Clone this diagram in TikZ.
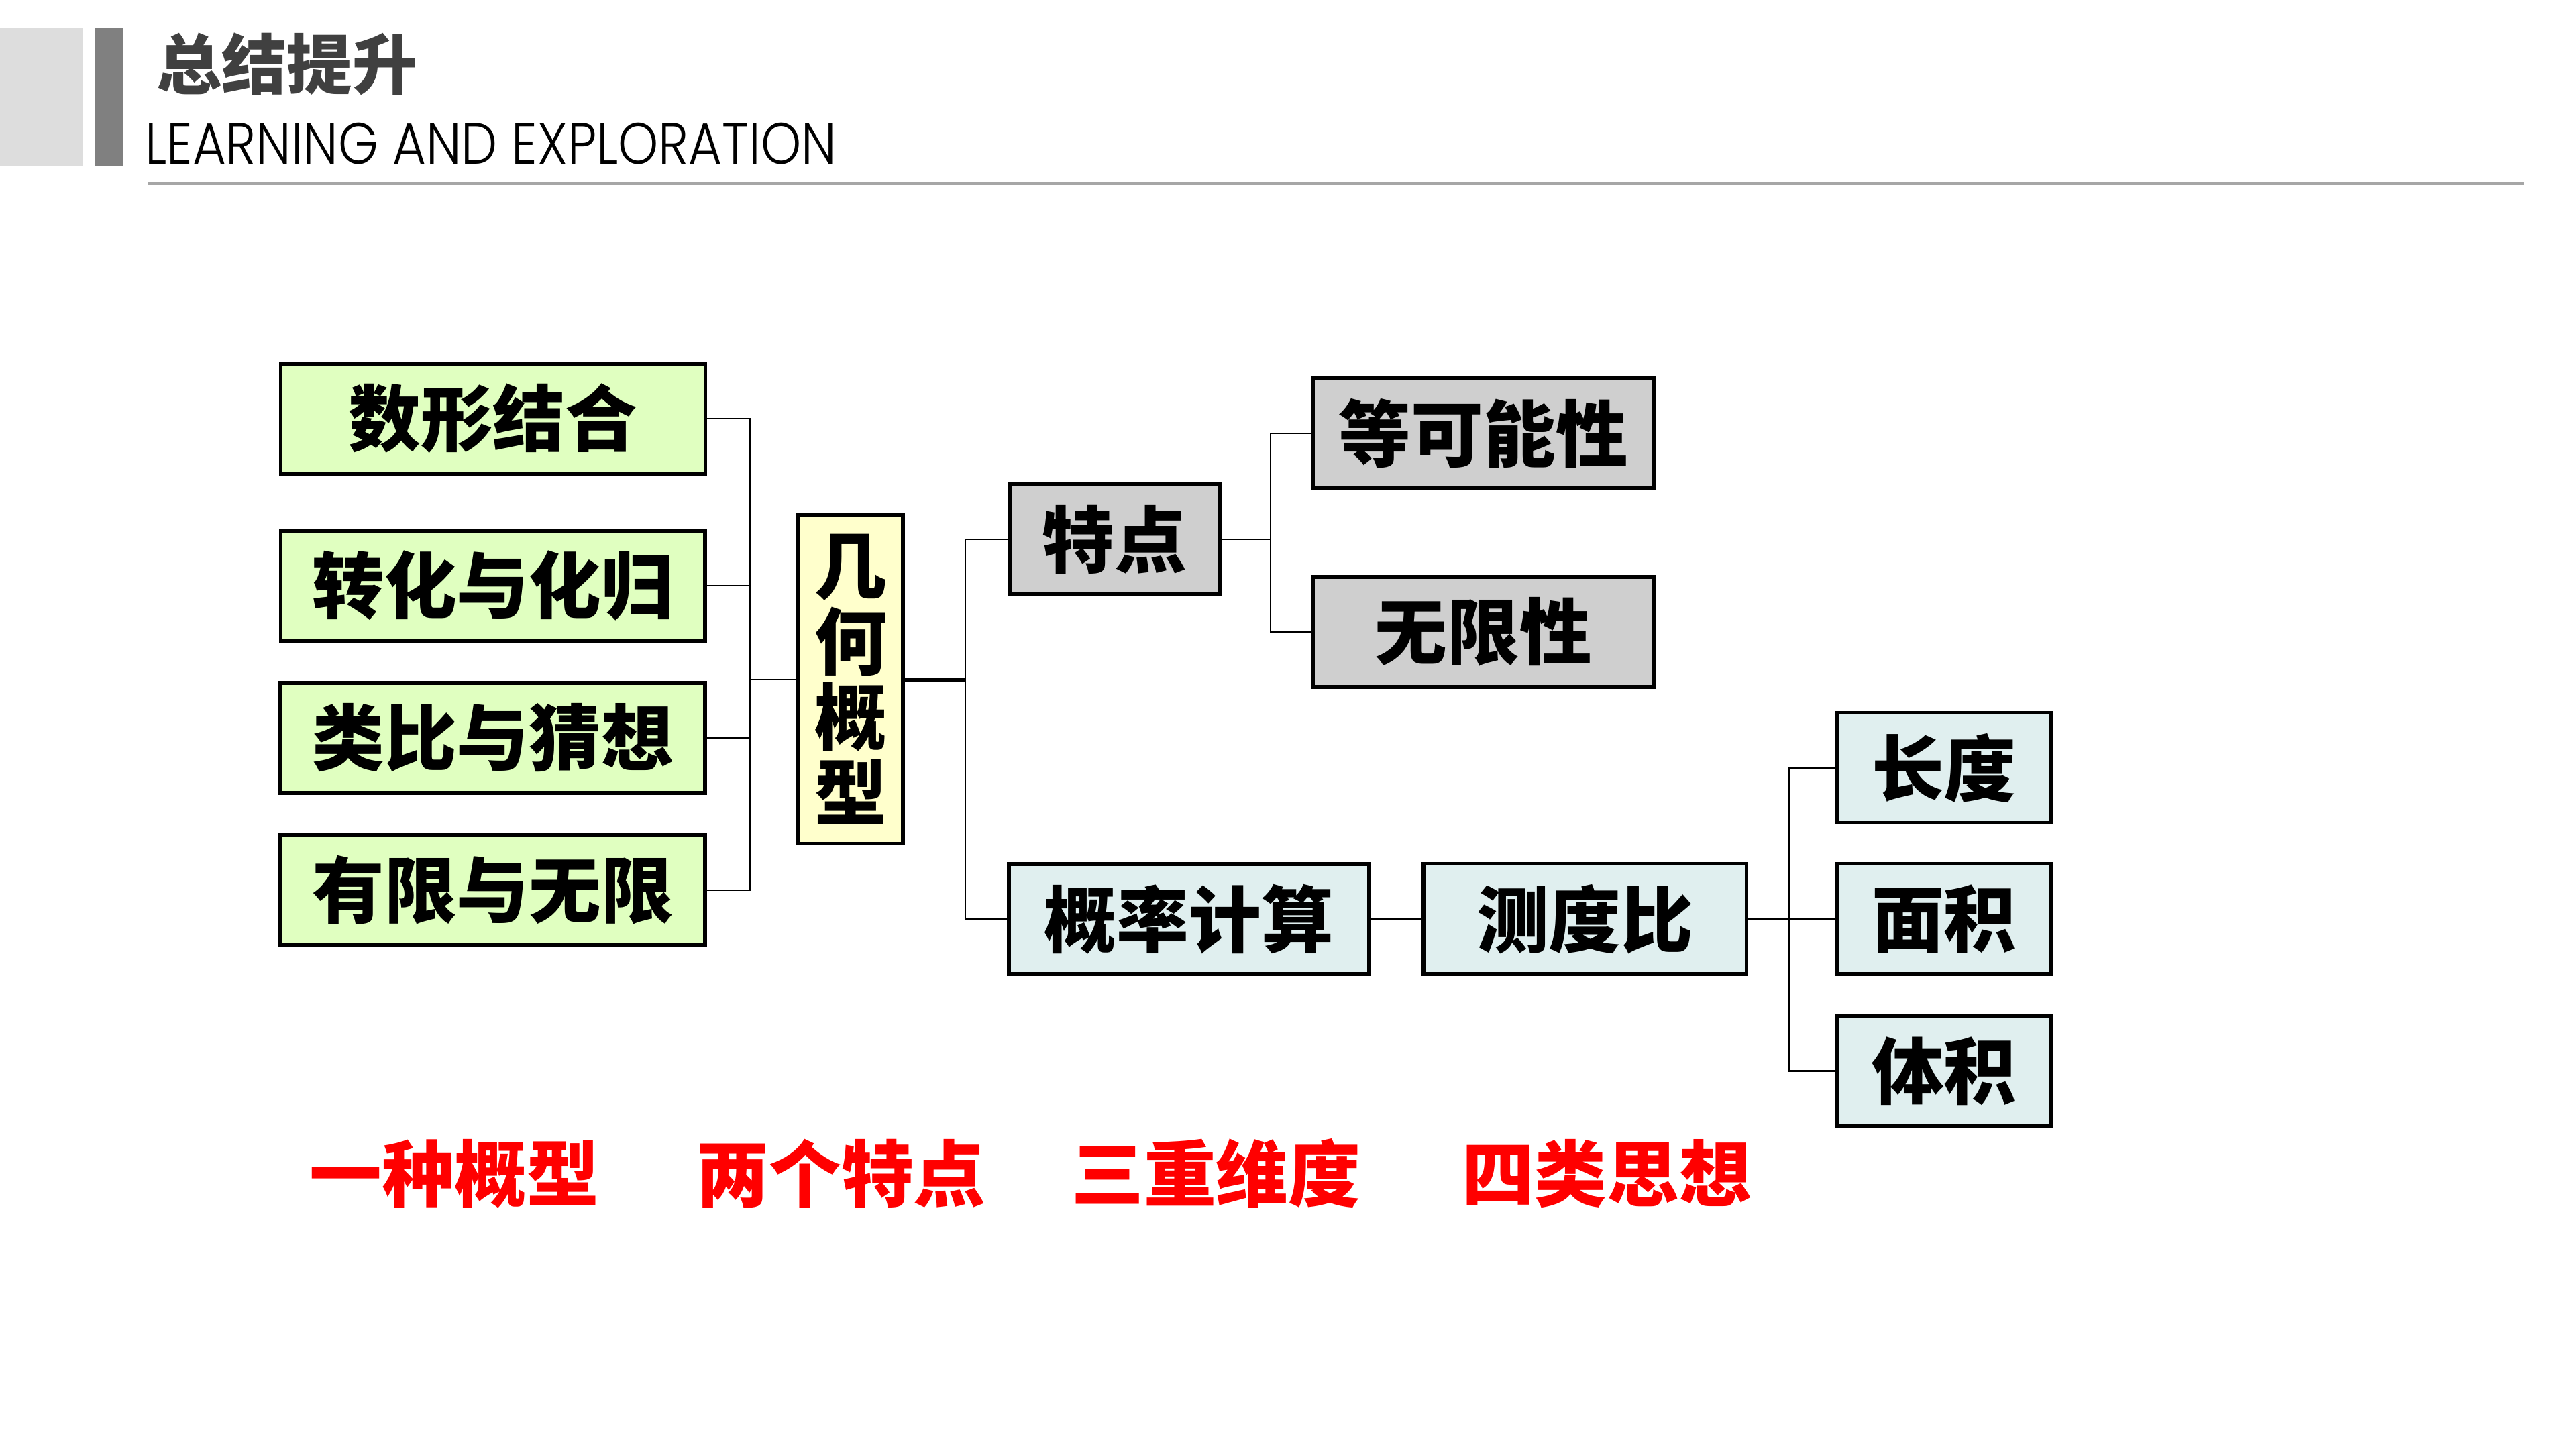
\documentclass[tikz,border=0pt]{standalone}
\usepackage{fontspec}
\usepackage{graphicx}
\usepackage{tikz}
\usetikzlibrary{positioning}
\newfontfamily\cjk{Noto Sans CJK SC}
\newfontfamily\enlight{Poppins Light}
\definecolor{ideagreen}{HTML}{E0FFC0}
\definecolor{coreyellow}{HTML}{FFFFCC}
\definecolor{traitgray}{HTML}{CFCFCF}
\definecolor{measurecyan}{HTML}{E0EFEF}
\definecolor{headlight}{HTML}{DDDDDD}
\definecolor{headdark}{HTML}{808080}
\definecolor{titlegray}{HTML}{404040}
\definecolor{rulegray}{HTML}{A6A6A6}

\begin{document}
\begin{tikzpicture}[
    scale=0.989, transform shape,
    node distance=0.58cm,
    every node/.style={inner sep=0pt},
    box/.style={draw=black, line width=1.6pt, minimum height=1.66cm, align=center, font=\cjk\bfseries\fontsize{31}{37}\selectfont},
    idea/.style={box, fill=ideagreen, minimum width=6.4cm},
    core/.style={box, fill=coreyellow, minimum width=1.58cm, minimum height=4.95cm, font=\cjk\bfseries\fontsize{31}{32.5}\selectfont},
    trait/.style={box, fill=traitgray},
    measure/.style={box, fill=measurecyan},
    motto/.style={text=red, font=\cjk\bfseries\fontsize{31}{37}\selectfont},
    link/.style={draw=black, line width=0.7pt},
    trunk/.style={draw=black, line width=1.6pt}
]
\useasboundingbox (0,0) rectangle (38.827,-21.84);

% header
\fill[headlight] (0,-0.42) rectangle (1.24,-2.50);
\fill[headdark] (1.43,-0.42) rectangle (1.86,-2.50);
\node[anchor=west, text=titlegray, font=\cjk\bfseries\fontsize{28}{33}\selectfont] (title) at (2.35,-0.96) {总结提升};
\node[anchor=base west] (subtitle) at (2.18,-2.47) {\resizebox{10.42cm}{0.62cm}{\enlight LEARNING AND EXPLORATION}};
\draw[rulegray, line width=1pt] (2.23,-2.77) -- (38.05,-2.77);

% left column
\node[idea] (1) at (7.43,-6.31) {数形结合};
\node[idea, below=0.80cm of 1] (2) {转化与化归};
\node[idea, below=of 2] (3) {类比与猜想};
\node[idea, below=of 3] (4) {有限与无限};
\node[core] (5) at (12.82,-10.24) {几\\何\\概\\型};

% right part
\node[trait] (6) at (16.80,-8.13) [minimum width=3.17cm] {特点};
\node[trait] (7) at (22.36,-6.53) [minimum width=5.15cm] {等可能性};
\node[trait, below=1.28cm of 7, minimum width=5.15cm] (8) {无限性};
\node[measure] (9) at (17.92,-13.85) [minimum width=5.42cm] {概率计算};
\node[measure, right=0.77cm of 9, minimum width=4.87cm] (10) {测度比};
\node[measure, right=1.31cm of 10, minimum width=3.22cm] (12) {面积};
\node[measure, above=0.56cm of 12, minimum width=3.22cm] (11) {长度};
\node[measure, below=of 12, minimum width=3.22cm] (13) {体积};

% bottom line
\node[motto] (m1) at (6.85,-17.69) {一种概型};
\node[motto] (m2) at (12.68,-17.69) {两个特点};
\node[motto] (m3) at (18.33,-17.69) {三重维度};
\node[motto] (m4) at (24.22,-17.69) {四类思想};

% connectors
\draw[link] (5.west) -- ++(-0.69,0) coordinate (b1);
\draw[link] (b1) |- (1.east);
\draw[link] (b1) |- (2.east);
\draw[link] (b1) |- (3.east);
\draw[link] (b1) |- (4.east);
\draw[trunk] (5.east) -- ++(0.91,0) coordinate (b2);
\draw[link] (b2) |- (6.west);
\draw[link] (b2) |- (9.west);
\draw[link] (6.east) -- ++(0.74,0) coordinate (b3);
\draw[link] (b3) |- (7.west);
\draw[link] (b3) |- (8.west);
\draw[link] (9) -- (10);
\draw[link] (10.east) -- ++(0.62,0) coordinate (b4);
\draw[link] (b4) |- (11.west);
\draw[link] (b4) |- (12.west);
\draw[link] (b4) |- (13.west);
\end{tikzpicture}
\end{document}
